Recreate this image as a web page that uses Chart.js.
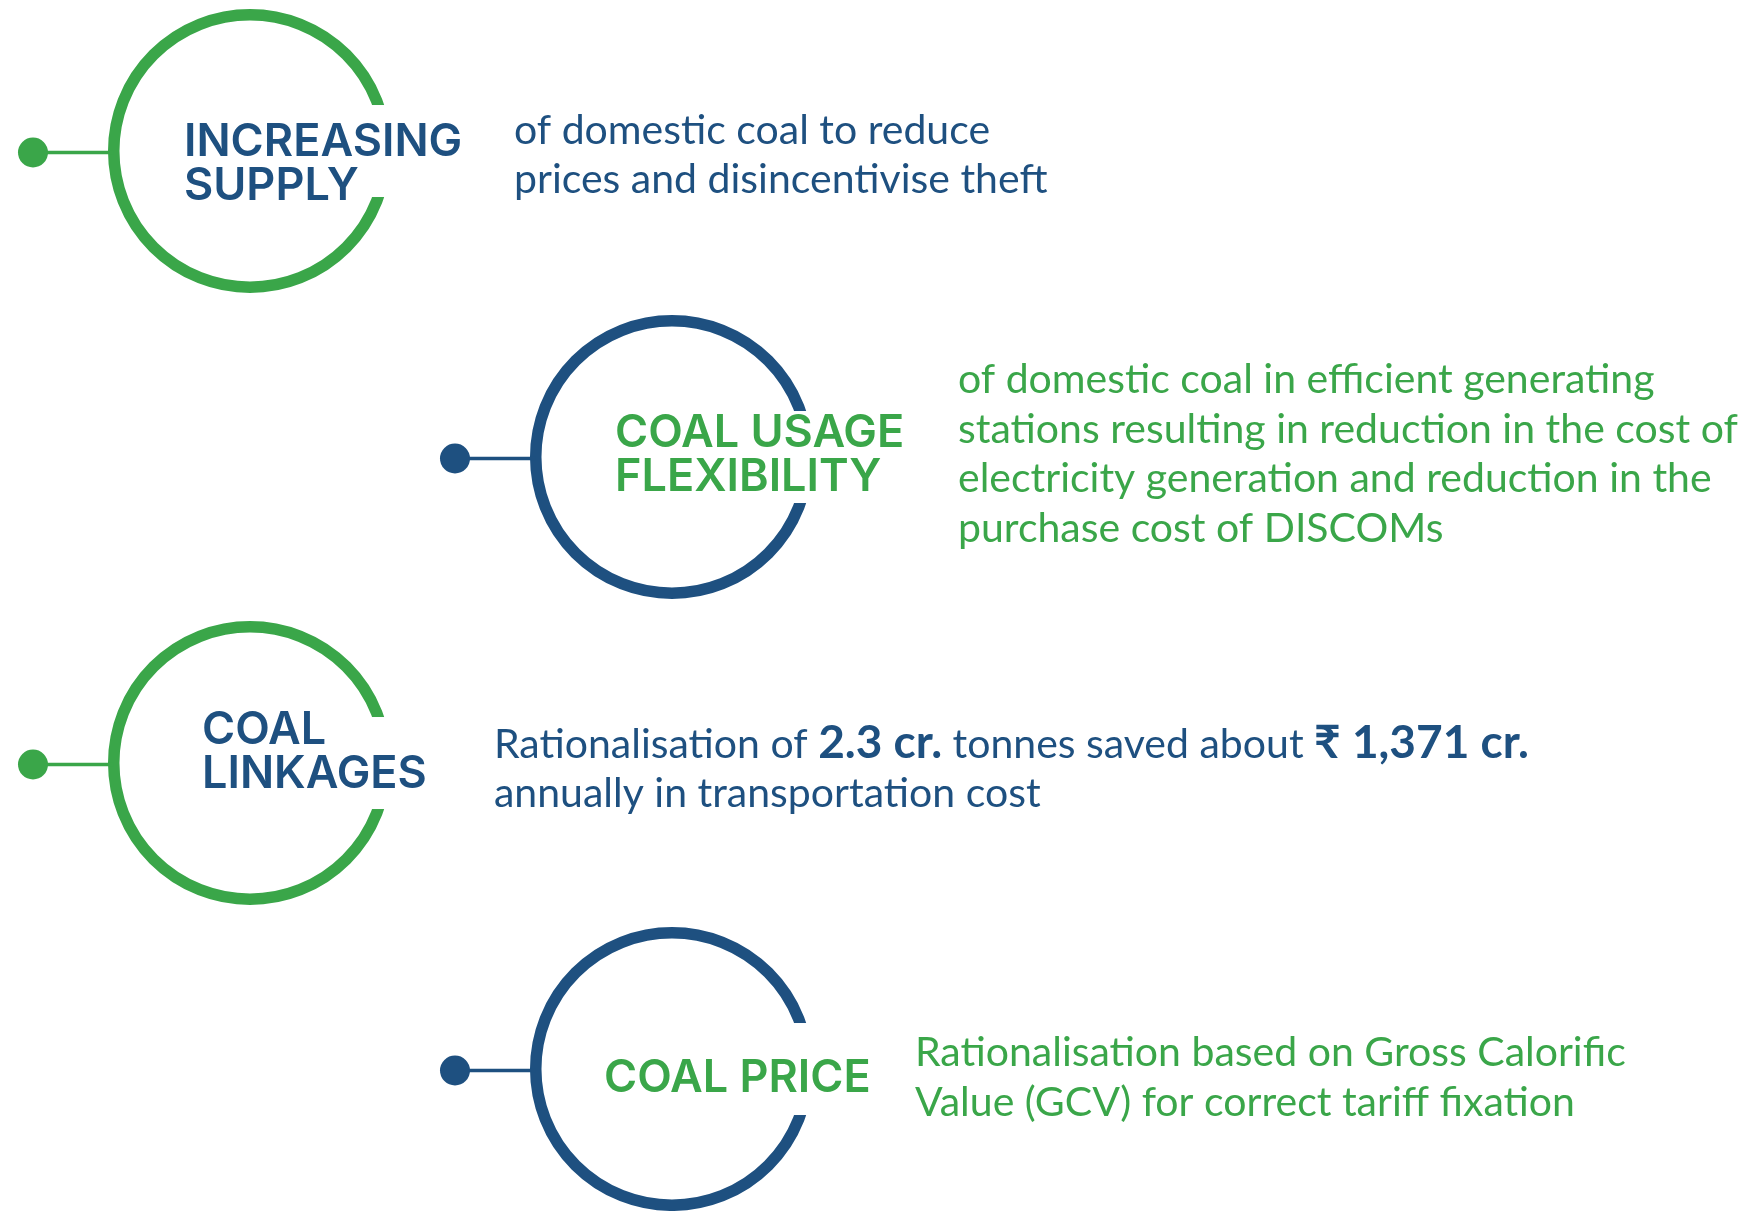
<!DOCTYPE html>
<html>
<head>
<meta charset="utf-8">
<script src="https://cdn.jsdelivr.net/npm/chart.js@4.4.1/dist/chart.umd.min.js"></script>
<style>
  html, body { margin: 0; padding: 0; background: #ffffff; }
  #wrap { width: 1758px; height: 1211px; position: relative; }
</style>
</head>
<body>
<div id="wrap"><canvas id="coalChart"></canvas></div>
<script>
const steps = ['Increasing supply', 'Coal usage flexibility', 'Coal linkages', 'Coal price'];
const stepColumns = [0, 1, 0, 1];
const stepRows = [0, 1, 2, 3];
const titleLines = [
  ['INCREASING', 'SUPPLY'],
  ['COAL USAGE', 'FLEXIBILITY'],
  ['COAL', 'LINKAGES'],
  ['COAL PRICE'],
];
const descriptionLines = [
  ['of domestic coal to reduce', 'prices and disincentivise theft'],
  ['of domestic coal in efficient generating', 'stations resulting in reduction in the cost of',
   'electricity generation and reduction in the', 'purchase cost of DISCOMs'],
  ['Rationalisation of **2.3 cr.** tonnes saved about **\u20B9 1,371 cr.**', 'annually in transportation cost'],
  ['Rationalisation based on Gross Calorific', 'Value (GCV) for correct tariff fixation'],
];

const GREEN = '#3aa649';
const BLUE = '#1e5080';
const ringColors = stepColumns.map((c) => (c === 0 ? GREEN : BLUE));
const textColors = stepColumns.map((c) => (c === 0 ? BLUE : GREEN));

// offsets of the labels from each ring centre, in px
const labelLayout = [
  { titleDx: -66, titleDy: 4.5, descDx: 264, descDy: -7.5, descGap: 49 },
  { titleDx: -57, titleDy: -10, descDx: 286, descDy: -64, descGap: 49.7 },
  { titleDx: -48, titleDy: -19, descDx: 244, descDy: -5, descGap: 49 },
  { titleDx: -68, titleDy: 23, descDx: 243, descDy: -3.5, descGap: 50 },
];

const TITLE_FONT = '600 45px Inter, "Noto Sans", sans-serif';
const DESC_FONT = '41px Lato, "Noto Sans", sans-serif';
const DESC_BOLD = 'bold 46px Lato, "Noto Sans", sans-serif';

function drawRich(ctx, line, x, y) {
  let cursor = x;
  line.split('**').forEach((part, k) => {
    ctx.font = k % 2 ? DESC_BOLD : DESC_FONT;
    ctx.fillText(part, cursor, y);
    cursor += ctx.measureText(part).width;
  });
}

const infographicPlugin = {
  id: 'infographic',
  afterDatasetsDraw(chart) {
    const ctx = chart.ctx;
    const meta = chart.getDatasetMeta(0);
    ctx.save();
    meta.data.forEach((pt, i) => {
      const cx = pt.x;
      const cy = pt.y;
      const lay = labelLayout[i];

      // opening in the ring where the title runs through
      ctx.fillStyle = '#ffffff';
      ctx.fillRect(cx + 90, cy - 46, 70, 92);

      // connector and dot
      ctx.strokeStyle = ringColors[i];
      ctx.lineWidth = 3.5;
      ctx.beginPath();
      ctx.moveTo(cx - 217, cy + 1.5);
      ctx.lineTo(cx - 136, cy + 1.5);
      ctx.stroke();
      ctx.fillStyle = ringColors[i];
      ctx.beginPath();
      ctx.arc(cx - 217, cy + 1.5, 15, 0, Math.PI * 2);
      ctx.fill();

      // title
      ctx.fillStyle = textColors[i];
      ctx.textBaseline = 'alphabetic';
      ctx.textAlign = 'left';
      ctx.font = TITLE_FONT;
      titleLines[i].forEach((line, k) => {
        ctx.fillText(line, cx + lay.titleDx, cy + lay.titleDy + k * 44);
      });

      // description
      descriptionLines[i].forEach((line, k) => {
        drawRich(ctx, line, cx + lay.descDx, cy + lay.descDy + k * lay.descGap);
      });
    });
    ctx.restore();
  },
};

new Chart(document.getElementById('coalChart').getContext('2d'), {
  type: 'scatter',
  data: {
    labels: steps,
    datasets: [
      {
        label: 'Steps',
        data: steps.map((s, i) => ({ x: stepColumns[i], y: stepRows[i] })),
        pointRadius: 136.25,
        pointBorderWidth: 11.5,
        pointBorderColor: ringColors,
        pointBackgroundColor: 'rgba(0,0,0,0)',
        clip: false,
      },
    ],
  },
  options: {
    responsive: true,
    maintainAspectRatio: false,
    animation: false,
    events: [],
    layout: { padding: 0, autoPadding: false },
    scales: {
      x: { type: 'linear', display: false, min: -0.5924, max: 3.5735 },
      y: { type: 'linear', display: false, reverse: true, min: -0.4935, max: 3.464 },
    },
    plugins: {
      legend: { display: false },
      tooltip: { enabled: false },
    },
  },
  plugins: [infographicPlugin],
});
</script>
</body>
</html>
